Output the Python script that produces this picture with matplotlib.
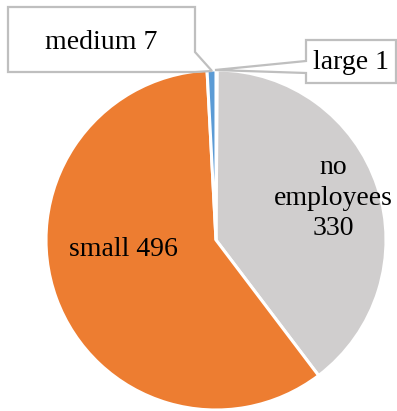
"""Pie chart of enterprises by size class, with callout labels for the tiny slices."""

import matplotlib

matplotlib.use("Agg")
import matplotlib.pyplot as plt
from matplotlib.patches import Polygon

# data, clockwise from 12 o'clock
labels = ["large", "no employees", "small", "medium"]
values = [1, 330, 496, 7]
colors = ["#FFC000", "#D0CECE", "#ED7D31", "#5B9BD5"]

W, H = 397, 411
plt.rcParams["font.family"] = ["Liberation Serif", "DejaVu Serif"]


def py(y):
    # pixel row (top-down) -> data y (bottom-up)
    return H - y


fig = plt.figure(figsize=(W / 100, H / 100), dpi=100)
ax = fig.add_axes([0, 0, 1, 1])

ax.pie(
    values,
    colors=colors,
    startangle=90,
    counterclock=False,
    center=(216, py(240)),
    radius=170,
    wedgeprops=dict(edgecolor="white", linewidth=2.2),
)
ax.set_xlim(0, W)
ax.set_ylim(0, H)
ax.set_aspect("equal")
ax.axis("off")

fs = 20
# labels inside the big slices
ax.text(333, py(198), "{}\n{}".format(labels[1].replace(" ", "\n"), values[1]),
        ha="center", va="center", fontsize=fs, linespacing=1.3)
ax.text(123, py(250), f"{labels[2]} {values[2]}", ha="center", va="center", fontsize=fs)

# callout boxes for the small slices
box_style = dict(facecolor="white", edgecolor="#BFBFBF", linewidth=1.6, zorder=5)
medium_box = [(8, 7), (195, 7), (195, 52), (212, 71), (195, 72), (8, 72)]
ax.add_patch(Polygon([(x, py(y)) for x, y in medium_box], closed=True, **box_style))
ax.text(101, py(42), f"{labels[3]} {values[3]}", ha="center", va="center",
        fontsize=fs, zorder=6)

large_box = [(306, 40), (396, 40), (396, 83), (306, 83), (306, 73), (215, 70), (306, 61)]
ax.add_patch(Polygon([(x, py(y)) for x, y in large_box], closed=True, **box_style))
ax.text(351, py(62), f"{labels[0]} {values[0]}", ha="center", va="center",
        fontsize=fs, zorder=6)

fig.savefig("out.png", dpi=100)
